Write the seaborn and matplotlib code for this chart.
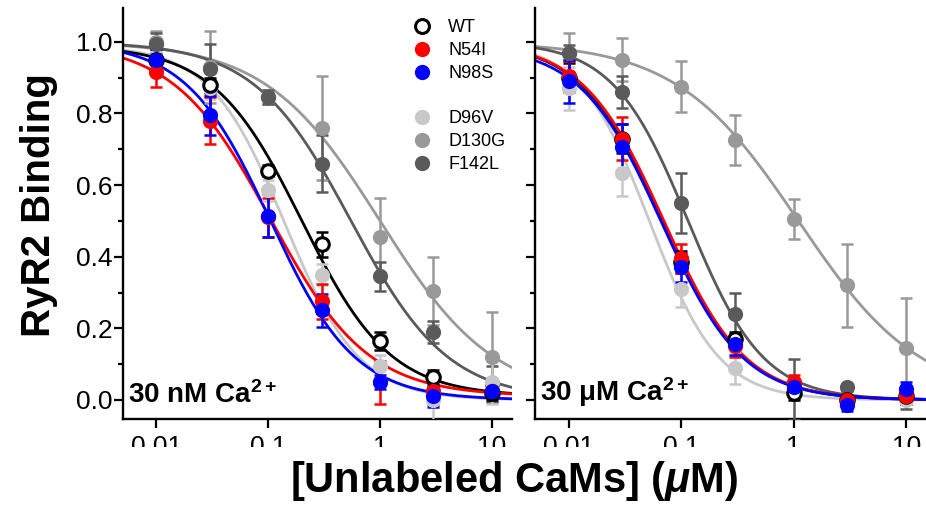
import numpy as np
import pandas as pd
import matplotlib
matplotlib.use('Agg')
import matplotlib.pyplot as plt
import seaborn as sns
from matplotlib.lines import Line2D
from matplotlib.patches import Rectangle

# concentrations of unlabeled CaM (uM)
conc = [0.01, 0.03, 0.1, 0.3, 1, 3, 10]
variants = ['WT', 'N54I', 'N98S', 'D96V', 'D130G', 'F142L']
colors = {'WT': '#000000', 'N54I': '#ff0000', 'N98S': '#0000ff',
          'D96V': '#c8c8c8', 'D130G': '#999999', 'F142L': '#5a5a5a'}

# 30 nM Ca2+ : mean and error
nM_WT = [0.95, 0.88, 0.64, 0.435, 0.165, 0.065, 0.02]
nM_WT_err = [0.03, 0.02, 0.015, 0.035, 0.025, 0.02, 0.02]
nM_N54I = [0.915, 0.78, 0.51, 0.275, 0.05, 0.025, 0.025]
nM_N54I_err = [0.04, 0.065, 0.055, 0.05, 0.06, 0.04, 0.02]
nM_N98S = [0.95, 0.795, 0.515, 0.25, 0.05, 0.01, 0.025]
nM_N98S_err = [0.03, 0.055, 0.06, 0.045, 0.02, 0.03, 0.02]
nM_D96V = [0.945, 0.87, 0.585, 0.35, 0.095, 0.0, 0.05]
nM_D96V_err = [0.03, 0.03, 0.03, 0.03, 0.03, 0.07, 0.06]
nM_D130G = [1.0, 0.93, 0.845, 0.76, 0.455, 0.305, 0.12]
nM_D130G_err = [0.03, 0.1, 0.02, 0.145, 0.11, 0.095, 0.125]
nM_F142L = [0.995, 0.925, 0.845, 0.66, 0.345, 0.19, 0.045]
nM_F142L_err = [0.03, 0.07, 0.02, 0.08, 0.04, 0.03, 0.05]

# 30 uM Ca2+
uM_WT = [0.9, 0.73, 0.385, 0.17, 0.02, 0.0, 0.01]
uM_WT_err = [0.04, 0.04, 0.03, 0.02, 0.02, 0.01, 0.02]
uM_N54I = [0.905, 0.73, 0.395, 0.15, 0.05, 0.0, 0.01]
uM_N54I_err = [0.04, 0.06, 0.04, 0.03, 0.02, 0.01, 0.02]
uM_N98S = [0.89, 0.705, 0.37, 0.155, 0.035, -0.015, 0.03]
uM_N98S_err = [0.06, 0.065, 0.04, 0.03, 0.02, 0.015, 0.02]
uM_D96V = [0.87, 0.635, 0.31, 0.09, 0.02, 0.0, 0.0]
uM_D96V_err = [0.06, 0.065, 0.05, 0.045, 0.02, 0.01, 0.01]
uM_D130G = [0.97, 0.95, 0.875, 0.725, 0.505, 0.32, 0.145]
uM_D130G_err = [0.055, 0.06, 0.07, 0.07, 0.055, 0.115, 0.14]
uM_F142L = [0.97, 0.86, 0.55, 0.24, 0.03, 0.035, 0.005]
uM_F142L_err = [0.02, 0.045, 0.085, 0.06, 0.085, 0.01, 0.03]

# Hill fit parameters: IC50, slope, top, bottom
nM_fit = {'WT': (0.2, 1.1, 0.99, 0.01), 'N54I': (0.105, 1.0, 1.0, 0.01),
          'N98S': (0.105, 1.15, 1.0, 0.0), 'D96V': (0.14, 1.3, 0.99, 0.0),
          'D130G': (1.0, 0.85, 1.0, 0.0), 'F142L': (0.55, 1.0, 1.0, 0.0)}
uM_fit = {'WT': (0.068, 1.2, 1.0, 0.0), 'N54I': (0.07, 1.2, 1.0, 0.0),
          'N98S': (0.067, 1.2, 0.99, 0.0), 'D96V': (0.052, 1.4, 1.0, 0.0),
          'D130G': (1.1, 0.8, 1.0, 0.0), 'F142L': (0.115, 1.3, 1.0, 0.0)}

nM_data = {'WT': (nM_WT, nM_WT_err), 'N54I': (nM_N54I, nM_N54I_err),
           'N98S': (nM_N98S, nM_N98S_err), 'D96V': (nM_D96V, nM_D96V_err),
           'D130G': (nM_D130G, nM_D130G_err), 'F142L': (nM_F142L, nM_F142L_err)}
uM_data = {'WT': (uM_WT, uM_WT_err), 'N54I': (uM_N54I, uM_N54I_err),
           'N98S': (uM_N98S, uM_N98S_err), 'D96V': (uM_D96V, uM_D96V_err),
           'D130G': (uM_D130G, uM_D130G_err), 'F142L': (uM_F142L, uM_F142L_err)}

sns.set_style('ticks')
plt.rcParams['font.family'] = ['Liberation Sans', 'DejaVu Sans']
plt.rcParams['mathtext.fontset'] = 'custom'
plt.rcParams['mathtext.rm'] = 'Liberation Sans'
plt.rcParams['mathtext.it'] = 'Liberation Sans:italic:bold'
plt.rcParams['mathtext.bf'] = 'Liberation Sans:bold'
for key in ['text.color', 'axes.labelcolor', 'xtick.color', 'ytick.color']:
    plt.rcParams[key] = 'black'


def hill_curves(fit):
    xs = np.logspace(np.log10(0.004), np.log10(16), 300)
    rows = []
    for v in variants:
        ic50, n, top, bot = fit[v]
        ys = bot + (top - bot) / (1 + (xs / ic50) ** n)
        rows.append(pd.DataFrame({'conc': xs, 'binding': ys, 'variant': v}))
    return pd.concat(rows, ignore_index=True)


def draw_panel(ax, data, fit, label, ylabels):
    ax.set_xscale('log')
    curves = hill_curves(fit)
    draw_order = ['D130G', 'F142L', 'D96V', 'WT', 'N54I', 'N98S']
    sns.lineplot(data=curves, x='conc', y='binding', hue='variant',
                 hue_order=draw_order, palette=colors, legend=False,
                 estimator=None, linewidth=2.0, ax=ax, zorder=2)
    for v in ['D130G', 'F142L', 'D96V', 'WT', 'N54I', 'N98S']:
        vals, errs = data[v]
        ax.errorbar(conc, vals, yerr=errs, fmt='none', ecolor=colors[v],
                    elinewidth=1.8, capsize=4, capthick=1.8, zorder=3)
        if v == 'WT':
            sns.scatterplot(x=conc, y=vals, color='white', edgecolor='black',
                            linewidth=2.2, s=95, ax=ax, zorder=4)
        else:
            sns.scatterplot(x=conc, y=vals, color=colors[v], edgecolor=colors[v],
                            linewidth=0, s=120, ax=ax, zorder=4)
    ax.set_xlim(0.005, 15)
    ax.set_ylim(-0.054, 1.094)
    ax.set_xticks([0.01, 0.1, 1, 10])
    ax.set_xticklabels(['0.01', '0.1', '1', '10'])
    ax.xaxis.set_minor_locator(matplotlib.ticker.NullLocator())
    ax.set_yticks([0.0, 0.2, 0.4, 0.6, 0.8, 1.0])
    ax.set_yticks([0.1, 0.3, 0.5, 0.7, 0.9], minor=True)
    if ylabels:
        ax.set_yticklabels(['0.0', '0.2', '0.4', '0.6', '0.8', '1.0'])
    else:
        ax.set_yticklabels([])
    ax.tick_params(axis='both', which='major', length=6.5, width=1.6,
                   labelsize=19, color='black', labelcolor='black')
    ax.tick_params(axis='x', pad=5)
    ax.tick_params(axis='y', pad=1)
    ax.tick_params(axis='y', which='minor', length=3.5, width=1.6)
    for s in ['left', 'bottom']:
        ax.spines[s].set_linewidth(1.7)
        ax.spines[s].set_color('black')
    sns.despine(ax=ax)
    ax.set_xlabel('')
    ax.set_ylabel('')
    ax.text(0.013, 0.025, label, transform=ax.transAxes, fontsize=20,
            fontweight='bold', ha='left', va='bottom', zorder=6)


fig = plt.figure(figsize=(9.26, 5.08), dpi=100)
ax1 = fig.add_axes([0.1325, 0.1746, 0.420, 0.8094])
ax2 = fig.add_axes([0.5777, 0.1746, 0.4223, 0.8094])

draw_panel(ax1, nM_data, nM_fit, r'30 nM Ca$^{\mathbf{2+}}$', True)
draw_panel(ax2, uM_data, uM_fit, '30 \u03bcM Ca' + r'$^{\mathbf{2+}}$', False)

handles = []
labels = []
for v in variants:
    if v == 'D96V':
        handles.append(Line2D([], [], linestyle='none'))
        labels.append(' ')
    if v == 'WT':
        h = Line2D([], [], linestyle='none', marker='o', markersize=10,
                   markerfacecolor='white', markeredgecolor='black',
                   markeredgewidth=2.2)
    else:
        h = Line2D([], [], linestyle='none', marker='o', markersize=11,
                   markerfacecolor=colors[v], markeredgewidth=0)
    handles.append(h)
    labels.append(v)
fig.legend(handles, labels, loc='upper left', bbox_to_anchor=(0.4441, 0.962),
           bbox_transform=fig.transFigure, frameon=False, fontsize=13,
           borderpad=0, borderaxespad=0, handlelength=1.2, handletextpad=0.85,
           labelspacing=0.32)

fig.text(39 / 926, 1 - 205 / 508, 'RyR2 Binding', rotation=90, ha='center',
         va='center', fontsize=29, fontweight='bold')
fig.text(514 / 926, 1 - 481 / 508, r'[Unlabeled CaMs] ($\mu$M)', ha='center',
         va='center', fontsize=30, fontweight='bold', zorder=7)

# the lower part of the x tick labels is hidden in the original figure
fig.patches.append(Rectangle((0.1, 1 - 456 / 508), 0.9, 9 / 508,
                             transform=fig.transFigure, facecolor='white',
                             edgecolor='none', zorder=5))

fig.savefig('out.png', dpi=100)
